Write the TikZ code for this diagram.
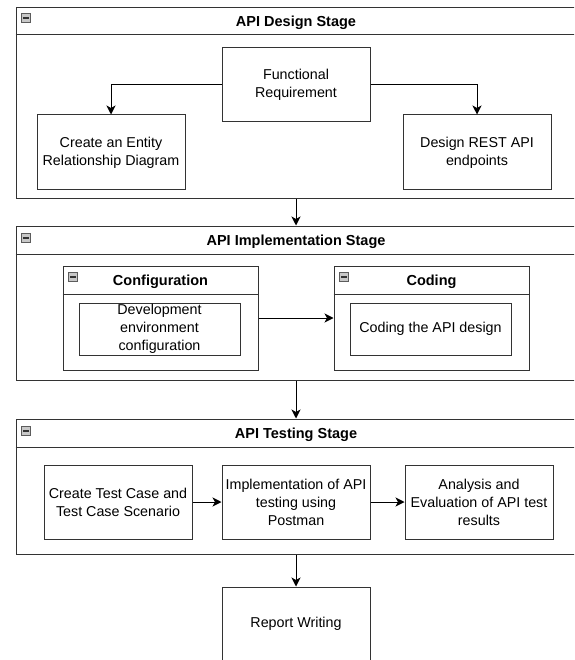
\documentclass[tikz,border=0pt]{standalone}
\usepackage{fontspec}
\setmainfont{Liberation Sans}
\usetikzlibrary{arrows.meta}
\definecolor{edge}{HTML}{333333}
\definecolor{iconfill}{HTML}{C8C8C8}
\tikzset{
  box/.style={draw=edge, line width=1pt, fill=white, align=center, inner sep=0pt,
              font=\fontsize{14.3}{18}\selectfont, text=black,
              execute at begin node={\vspace*{3pt}}},
  cont/.style={draw=edge, line width=1pt, fill=white},
  ttl/.style={font=\bfseries\fontsize{14.5}{16}\selectfont, text=black},
  sep/.style={draw=edge, line width=1pt},
  conn/.style={draw=black, line width=1pt, -{Stealth[length=9pt,width=9pt,inset=2.5pt]}},
  icon/.style={draw=edge!80, fill=iconfill, line width=0.6pt, minimum size=9pt, inner sep=0pt}
}
\newcommand{\collapseicon}[2]{%
  \node[icon] at (#1,#2) {};
  \draw[edge, line width=1.2pt] (#1-3,#2) -- (#1+3,#2);
}
\begin{document}
\begin{tikzpicture}[x=1pt,y=-1pt]
\useasboundingbox (0,0) rectangle (574,660);
\clip (0,0) rectangle (574,660);
\fill[white] (0,0) rectangle (574,660);

% ---------- Stage 1 ----------
\node[cont, minimum width=560pt, minimum height=191pt] (s1) at (296,103.5) {};
\coordinate (s1h) at (0,35);
\draw[sep] (s1.west |- s1h) -- (s1.east |- s1h);
\node[ttl] (s1t) at (296,22.5) {API Design Stage};
\collapseicon{26}{18}

\node[box, minimum width=148pt, minimum height=74pt] (fr) at (296,85) {Functional\\Requirement};
\node[box, minimum width=148pt, minimum height=75pt] (er) at (111,152.5) {Create an Entity\\Relationship Diagram};
\node[box, minimum width=148pt, minimum height=75pt] (rest) at (477,152.5) {Design REST API\\endpoints};
\draw[conn] (fr.west) -| (er.north);
\draw[conn] (fr.east) -| (rest.north);

% ---------- Stage 2 ----------
\node[cont, minimum width=560pt, minimum height=154pt] (s2) at (296,303) {};
\coordinate (s2h) at (0,254);
\draw[sep] (s2.west |- s2h) -- (s2.east |- s2h);
\node[ttl] (s2t) at (296,241.5) {API Implementation Stage};
\collapseicon{26}{238}

\node[cont, minimum width=195pt, minimum height=104pt] (cfg) at (160.5,318) {};
\coordinate (cfgh) at (0,294);
\draw[sep] (cfg.west |- cfgh) -- (cfg.east |- cfgh);
\node[ttl] (cfgt) at (160.5,281.5) {Configuration};
\collapseicon{73}{277}
\node[box, minimum width=161pt, minimum height=52pt] (dev) at (159.5,329) {Development\\environment\\configuration};

\node[cont, minimum width=195pt, minimum height=104pt] (cod) at (431.5,318) {};
\draw[sep] (cod.west |- cfgh) -- (cod.east |- cfgh);
\node[ttl] (codt) at (431.5,281.5) {Coding};
\collapseicon{344}{277}
\node[box, minimum width=161pt, minimum height=52pt] (codi) at (430.5,329) {Coding the API design};

\draw[conn] (cfg.east) -- (cod.west);

% ---------- Stage 3 ----------
\node[cont, minimum width=560pt, minimum height=135pt] (s3) at (296,486.5) {};
\coordinate (s3h) at (0,447);
\draw[sep] (s3.west |- s3h) -- (s3.east |- s3h);
\node[ttl] (s3t) at (296,434.5) {API Testing Stage};
\collapseicon{26}{431}

\node[box, minimum width=148pt, minimum height=74pt] (tc) at (118,502) {Create Test Case and\\Test Case Scenario};
\node[box, minimum width=148pt, minimum height=74pt] (imp) at (296,502) {Implementation of API\\testing using\\Postman};
\node[box, minimum width=148pt, minimum height=74pt] (ana) at (479,502) {Analysis and\\Evaluation of API test\\results};
\draw[conn] (tc) -- (imp);
\draw[conn] (imp) -- (ana);

% ---------- Report ----------
\node[box, minimum width=148pt, minimum height=74pt] (rep) at (296,624) {Report Writing};

% ---------- Stage connectors ----------
\draw[conn] (s1.south) -- (s2.north);
\draw[conn] (s2.south) -- (s3.north);
\draw[conn] (s3.south) -- (rep.north);
\end{tikzpicture}
\end{document}
